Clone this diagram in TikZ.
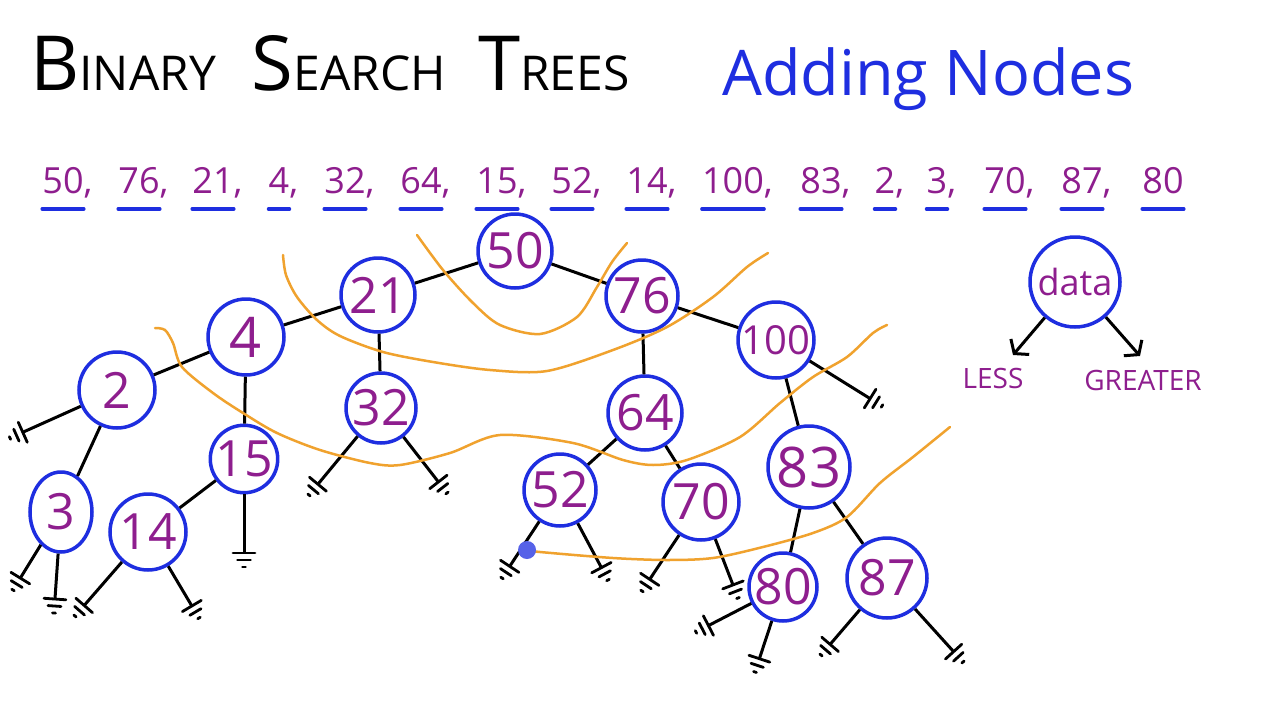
\documentclass[tikz,border=0pt]{standalone}
\usepackage{fontspec}
\setmainfont{Open Sans}
\usetikzlibrary{arrows.meta,shapes.geometric,calc}
\definecolor{ink}{HTML}{8E1E8E}
\definecolor{penblue}{HTML}{1E2EE0}
\definecolor{marker}{HTML}{F0A22E}
\newcommand{\capword}[2]{{\fontsize{76}{76}\selectfont #1}{\fontsize{48}{48}\selectfont #2}}

\begin{document}
\begin{tikzpicture}[x=1pt,y=-1pt]

\tikzstyle{tnode}=[circle,draw=penblue,line width=3.5pt,minimum size=74pt,inner sep=0pt,text=ink,font=\fontsize{50}{50}\selectfont]
\tikzstyle{branch}=[draw,line width=3pt]
\tikzstyle{gbar}=[draw,line width=2.8pt,line cap=round]
\tikzstyle{numtext}=[inner sep=0pt,text=ink,font=\fontsize{36}{36}\selectfont]
\tikzstyle{uline}=[draw=penblue,line width=3.5pt,line cap=round]
\tikzstyle{lbl}=[inner sep=0pt,text=ink,font=\fontsize{28}{28}\selectfont]
\tikzstyle{sweep}=[draw=marker,line width=2.5pt,line cap=round]

\useasboundingbox[fill=white] (0,0) rectangle (1280,720);

% heading
\node[anchor=base west,inner sep=0pt] (title) at (30,90) {\capword{B}{INARY}\hspace{36pt}\capword{S}{EARCH}\hspace{32pt}\capword{T}{REES}};
\node[anchor=base west,inner sep=0pt,text=penblue,font=\fontsize{63}{63}\selectfont] (sub) at (722,95) {Adding Nodes};

% insertion order
\foreach \v/\x in {50/63,76/139,21/213,4/279,32/345,64/421,15/497,52/572,14/647,100/733,83/821,2/885,3/937,70/1005,87/1082}{
  \node[numtext,anchor=base] (k\v) at (\x,193) {\v\rlap{,}};
  \draw[uline] ([yshift=-16pt]k\v.base west) -- ([yshift=-16pt]k\v.base east);
}
\node[numtext,anchor=base] (k80) at (1163,193) {80};
\draw[uline] ([yshift=-16pt]k80.base west) -- ([yshift=-16pt]k80.base east);

% the tree
\node[tnode] (n50) at (515,251) {50};
\node[tnode] (n21) at (378,295) {21};
\node[tnode,minimum size=72pt] (n76) at (642,296) {76};
\node[tnode,minimum size=76pt,font=\fontsize{56}{56}\selectfont] (n4) at (246,337) {4};
\node[tnode,minimum size=76pt,font=\fontsize{40}{40}\selectfont] (n100) at (776,340) {100};
\node[tnode,minimum size=76pt] (n2) at (117,390) {2};
\node[tnode,minimum size=70pt] (n32) at (381,408) {32};
\node[tnode] (n64) at (645,413) {64};
\node[tnode,minimum size=66pt] (n15) at (244,459) {15};
\node[tnode,minimum size=82pt,font=\fontsize{56}{56}\selectfont] (n83) at (809,467) {83};
\node[tnode,minimum size=72pt] (n52) at (560,490) {52};
\node[tnode,minimum size=76pt] (n70) at (701,502) {70};
\node[tnode,ellipse,minimum width=62pt,minimum height=80pt] (n3) at (61,512) {3};
\node[tnode,minimum size=76pt] (n14) at (148,532) {14};
\node[tnode,minimum size=68pt] (n80) at (783,587) {80};
\node[tnode,minimum size=80pt] (n87) at (887,578) {87};

\foreach \a/\b in {n50/n21,n50/n76,n21/n4,n21/n32,n4/n2,n4/n15,n2/n3,n15/n14,n76/n64,n76/n100,n64/n52,n64/n70,n100/n83,n83/n80,n83/n87}
  \draw[branch] (\a) -- (\b);

% empty children: stem and three bars
\foreach \p/\q/\x/\y in {n2/z2/10/438,n3/z3a/13/590,n3/z3b/54/613,n14/z14a/75/616,n14/z14b/199/618,n15/z15/244/567,n32/z32a/309/495,n32/z32b/447/493,n52/z52a/502/578,n52/z52b/608/580,n70/z70a/642/591,n70/z70b/738/598,n80/z80a/696/632,n80/z80b/755/672,n87/z87a/821/655,n87/z87b/963/662,n100/z100/882/406}{
  \coordinate (\q) at (\x,\y);
  \coordinate (\q-l) at ($(\q)!14pt!(\p)$);
  \coordinate (\q-m) at ($(\q)!7pt!(\p)$);
  \draw[branch] (\p) -- (\q-l);
  \draw[gbar] ($(\q-l)!11pt!90:(\q)$) -- ($(\q-l)!11pt!-90:(\q)$);
  \draw[gbar] ($(\q-m)!6.5pt!90:(\q)$) -- ($(\q-m)!6.5pt!-90:(\q)$);
  \draw[gbar] ($(\q)!1.5pt!90:(\p)$) -- ($(\q)!1.5pt!-90:(\p)$);
}

% levels
\draw[sweep] plot[smooth] coordinates {(417,235) (443,270) (473,303) (500,325) (540,334) (577,317) (597,287) (612,262) (627,243)};
\draw[sweep] plot[smooth] coordinates {(283,255) (286,275) (297,297) (317,320) (340,336) (383,352) (433,362) (490,370) (547,371) (613,350) (667,327) (713,297) (747,267) (768,253)};
\draw[sweep] plot[smooth] coordinates {(155,328) (165,330) (173,343) (182,367) (213,393) (243,413) (277,433) (320,450) (370,463) (400,465) (450,453) (500,435) (573,443) (623,460) (653,465) (687,460) (740,437) (780,403) (813,377) (847,357) (873,333) (887,325)};
\draw[sweep] plot[smooth] coordinates {(527,550) (540,552) (613,558) (667,560) (713,558) (763,547) (813,533) (847,517) (880,483) (913,457) (950,427)};
\fill[penblue!75] (527,550) circle (9pt);

% legend
\node[tnode,minimum size=90pt,font=\fontsize{36}{36}\selectfont] (data) at (1075,282) {data};
\node[lbl] (less) at (993,378) {LESS};
\node[lbl] (greater) at (1143,380) {GREATER};
\coordinate (lessend) at (1013,355);
\coordinate (greaterend) at (1140,356);
\draw[branch,-{Straight Barb[length=9pt,width=24pt]}] (data) -- (lessend);
\draw[branch,-{Straight Barb[length=9pt,width=24pt]}] (data) -- (greaterend);

\end{tikzpicture}
\end{document}
